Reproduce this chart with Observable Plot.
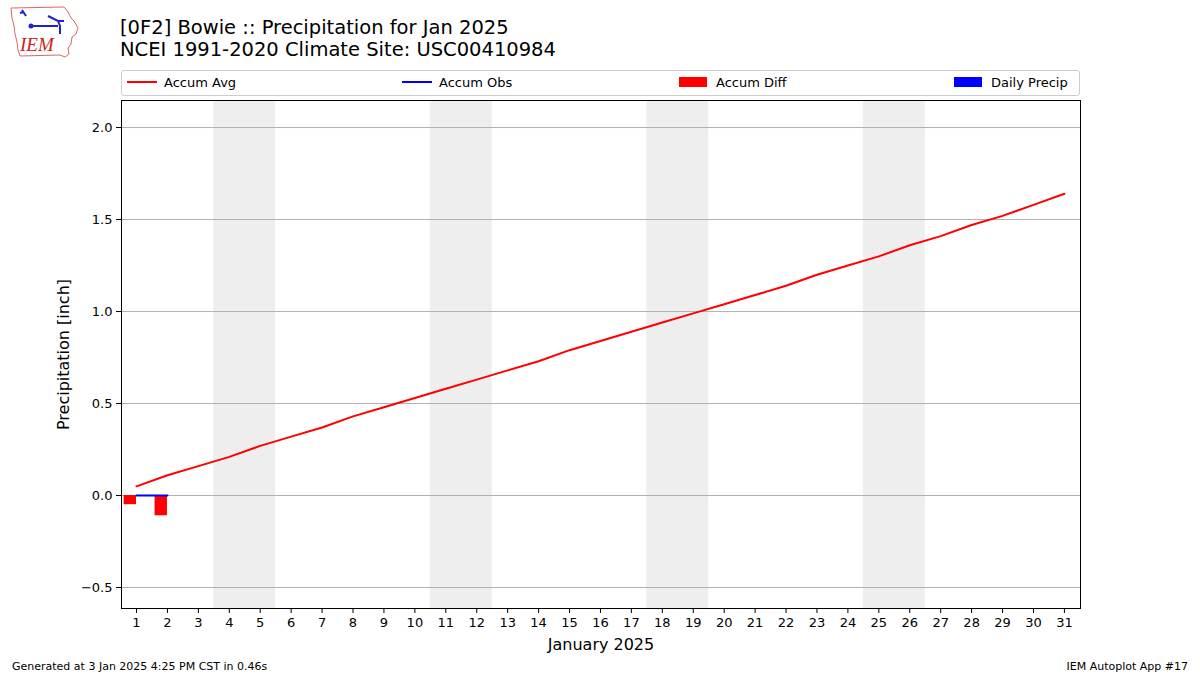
<!DOCTYPE html>
<html><head><meta charset="utf-8">
<script src="https://cdn.jsdelivr.net/npm/d3@7"></script>
<script src="https://cdn.jsdelivr.net/npm/@observablehq/plot@0.6"></script>
<style>
body{margin:0;background:#fff;font-family:"DejaVu Sans",sans-serif;}
#wrap{position:relative;width:1200px;height:675px;overflow:hidden;}
#chart{position:absolute;left:0;top:0;}
.t{position:absolute;white-space:nowrap;color:#000;}
#legend{position:absolute;left:121px;top:70px;width:957px;height:24px;border:1px solid #ccc;border-radius:3px;box-sizing:content-box;}
.li{position:absolute;top:0;height:24px;font-size:13px;line-height:24px;}
.li .h{position:absolute;left:5px;}
.li span{position:absolute;left:42px;white-space:nowrap;}
</style></head>
<body><div id="wrap">
<div id="chart"></div>
<svg style="position:absolute;left:8px;top:4px" width="72" height="56" viewBox="0 0 72 56">
<path d="M3,4 L56,3 L60,8 L63,14 L66,17 L70,24 L68,30 L64,33 L63,40 L60,44 L61,50 L57,53 L52,51 L12,52 L10,46 L9,38 L7,30 L6,22 L4,14 Z" fill="none" stroke="#d66" stroke-width="1"/>
<path d="M14,6 L18,12 M12,9 L16,8 M22,22 L50,22 M40,12 L50,17 L56,17 M50,17 L52,22 L52,30" fill="none" stroke="#22c" stroke-width="2"/>
<circle cx="23" cy="22" r="2.5" fill="#22c"/>
<text x="12" y="47" font-family="Liberation Serif,serif" font-style="italic" font-size="19" fill="#c22">IEM</text>
</svg>
<div class="t" style="left:120px;top:16px;font-size:19.5px;">[0F2] Bowie :: Precipitation for Jan 2025</div>
<div class="t" style="left:120px;top:38px;font-size:19.5px;">NCEI 1991-2020 Climate Site: USC00410984</div>
<div id="legend">
<div class="li" style="left:0px"><svg class="h" width="30" height="24"><line x1="0" x2="30" y1="11" y2="11" stroke="red" stroke-width="2"/></svg><span>Accum Avg</span></div>
<div class="li" style="left:275px"><svg class="h" width="30" height="24"><line x1="0" x2="30" y1="11" y2="11" stroke="blue" stroke-width="2"/></svg><span>Accum Obs</span></div>
<div class="li" style="left:552px"><svg class="h" width="30" height="24"><rect x="0" y="6" width="28" height="10" fill="red"/></svg><span>Accum Diff</span></div>
<div class="li" style="left:827px"><svg class="h" width="30" height="24"><rect x="0" y="6" width="28" height="10" fill="blue"/></svg><span>Daily Precip</span></div>
</div>
<div class="t" style="left:12px;top:660px;font-size:11px;">Generated at 3 Jan 2025 4:25 PM CST in 0.46s</div>
<div class="t" style="right:12px;top:660px;font-size:11px;">IEM Autoplot App #17</div>
</div>
<script>
const days = d3.range(1, 32);
const accumAvg = [0.05,0.11,0.16,0.21,0.27,0.32,0.37,0.43,0.48,0.53,0.58,0.63,0.68,0.73,0.79,0.84,0.89,0.94,0.99,1.04,1.09,1.14,1.20,1.25,1.30,1.36,1.41,1.47,1.52,1.58,1.64];
const obsDays = [1, 2];
const accumObs = [0, 0];
const dailyPrecip = [0, 0];
const accumDiff = [-0.05, -0.11];
const weekendStarts = [4, 11, 18, 25];
const yTicks = [-0.5, 0, 0.5, 1.0, 1.5, 2.0];

const avgData = days.map((d, i) => ({day: d, v: accumAvg[i]}));
const obsData = obsDays.map((d, i) => ({day: d, obs: accumObs[i], diff: accumDiff[i], p: dailyPrecip[i]}));

const chart = Plot.plot({
  width: 1200, height: 675,
  marginTop: 100, marginBottom: 67, marginLeft: 121, marginRight: 120,
  style: {fontFamily: "DejaVu Sans, sans-serif", fontSize: "13px", color: "#000", background: "transparent"},
  x: {domain: [0.515, 31.52]},
  y: {domain: [-0.614, 2.147]},
  marks: [
    Plot.rect(weekendStarts, {x1: d => d - 0.5, x2: d => d + 1.5, fill: "#eeeeee"}),
    Plot.gridY(yTicks, {stroke: "#b0b0b0", strokeOpacity: 1, strokeWidth: 1}),
    Plot.rectY(obsData, {x1: d => d.day - 0.4, x2: d => d.day, y: "diff", fill: "red"}),
    Plot.rectY(obsData, {x1: d => d.day, x2: d => d.day + 0.4, y: "p", fill: "blue"}),
    Plot.line(avgData, {x: "day", y: "v", stroke: "red", strokeWidth: 2}),
    Plot.line(obsData, {x: "day", y: "obs", stroke: "blue", strokeWidth: 2}),
    Plot.axisX({ticks: days, tickFormat: d => String(d), tickSize: 5, fontSize: 13, label: "January 2025", labelArrow: "none", labelOffset: 41, labelAnchor: "center"}),
    Plot.axisY({ticks: yTicks, tickFormat: d3.format(".1f"), tickSize: 5, fontSize: 13, label: "Precipitation [inch]", labelArrow: "none", labelOffset: 64, labelAnchor: "center"}),
    Plot.frame({stroke: "#000", strokeWidth: 1})
  ]
});
document.getElementById("chart").appendChild(chart);
d3.select(chart).selectAll("[aria-label='x-axis label'] text, [aria-label='y-axis label'] text, [aria-label='x-axis label'], [aria-label='y-axis label']").style("font-size", "16px");
</script>
</body></html>
